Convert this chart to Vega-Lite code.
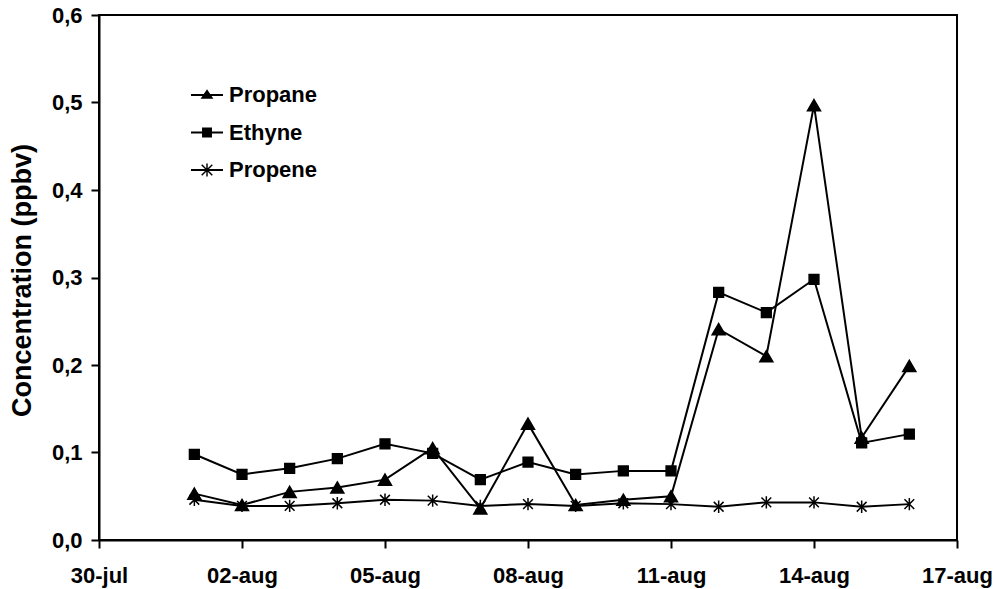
{
  "$schema": "https://vega.github.io/schema/vega-lite/v6.json",
  "width": 858,
  "height": 525,
  "autosize": {"type": "none"},
  "padding": {"left": 99, "top": 15, "right": 41, "bottom": 49},
  "background": "white",
  "config": {
    "view": {"stroke": "black", "strokeWidth": 2},
    "font": "Liberation Sans",
    "axis": {"grid": false, "domainColor": "black", "domainWidth": 2, "tickColor": "black", "tickWidth": 2, "tickSize": 8, "labelFont": "Liberation Sans", "labelFontWeight": "bold", "labelFontSize": 22, "labelColor": "black", "titleFont": "Liberation Sans", "titleFontWeight": "bold", "titleColor": "black"}
  },
  "data": {
    "values": [
      {"date": "2000-08-01", "series": "Propane", "value": 0.053},
      {"date": "2000-08-02", "series": "Propane", "value": 0.040},
      {"date": "2000-08-03", "series": "Propane", "value": 0.055},
      {"date": "2000-08-04", "series": "Propane", "value": 0.060},
      {"date": "2000-08-05", "series": "Propane", "value": 0.069},
      {"date": "2000-08-06", "series": "Propane", "value": 0.105},
      {"date": "2000-08-07", "series": "Propane", "value": 0.036},
      {"date": "2000-08-08", "series": "Propane", "value": 0.133},
      {"date": "2000-08-09", "series": "Propane", "value": 0.040},
      {"date": "2000-08-10", "series": "Propane", "value": 0.046},
      {"date": "2000-08-11", "series": "Propane", "value": 0.050},
      {"date": "2000-08-12", "series": "Propane", "value": 0.241},
      {"date": "2000-08-13", "series": "Propane", "value": 0.210},
      {"date": "2000-08-14", "series": "Propane", "value": 0.497},
      {"date": "2000-08-15", "series": "Propane", "value": 0.117},
      {"date": "2000-08-16", "series": "Propane", "value": 0.199},
      {"date": "2000-08-01", "series": "Ethyne", "value": 0.098},
      {"date": "2000-08-02", "series": "Ethyne", "value": 0.075},
      {"date": "2000-08-03", "series": "Ethyne", "value": 0.082},
      {"date": "2000-08-04", "series": "Ethyne", "value": 0.093},
      {"date": "2000-08-05", "series": "Ethyne", "value": 0.110},
      {"date": "2000-08-06", "series": "Ethyne", "value": 0.099},
      {"date": "2000-08-07", "series": "Ethyne", "value": 0.069},
      {"date": "2000-08-08", "series": "Ethyne", "value": 0.089},
      {"date": "2000-08-09", "series": "Ethyne", "value": 0.075},
      {"date": "2000-08-10", "series": "Ethyne", "value": 0.079},
      {"date": "2000-08-11", "series": "Ethyne", "value": 0.079},
      {"date": "2000-08-12", "series": "Ethyne", "value": 0.283},
      {"date": "2000-08-13", "series": "Ethyne", "value": 0.260},
      {"date": "2000-08-14", "series": "Ethyne", "value": 0.298},
      {"date": "2000-08-15", "series": "Ethyne", "value": 0.111},
      {"date": "2000-08-16", "series": "Ethyne", "value": 0.121},
      {"date": "2000-08-01", "series": "Propene", "value": 0.046},
      {"date": "2000-08-02", "series": "Propene", "value": 0.039},
      {"date": "2000-08-03", "series": "Propene", "value": 0.039},
      {"date": "2000-08-04", "series": "Propene", "value": 0.042},
      {"date": "2000-08-05", "series": "Propene", "value": 0.046},
      {"date": "2000-08-06", "series": "Propene", "value": 0.045},
      {"date": "2000-08-07", "series": "Propene", "value": 0.039},
      {"date": "2000-08-08", "series": "Propene", "value": 0.041},
      {"date": "2000-08-09", "series": "Propene", "value": 0.039},
      {"date": "2000-08-10", "series": "Propene", "value": 0.042},
      {"date": "2000-08-11", "series": "Propene", "value": 0.041},
      {"date": "2000-08-12", "series": "Propene", "value": 0.038},
      {"date": "2000-08-13", "series": "Propene", "value": 0.043},
      {"date": "2000-08-14", "series": "Propene", "value": 0.043},
      {"date": "2000-08-15", "series": "Propene", "value": 0.038},
      {"date": "2000-08-16", "series": "Propene", "value": 0.041}
    ]
  },
  "encoding": {
    "x": {
      "field": "date",
      "type": "temporal",
      "scale": {
        "type": "utc",
        "domain": [
          {"year": 2000, "month": 7, "date": 30, "utc": true},
          {"year": 2000, "month": 8, "date": 17, "utc": true}
        ]
      },
      "axis": {
        "title": null,
        "values": [
          {"year": 2000, "month": 7, "date": 30, "utc": true},
          {"year": 2000, "month": 8, "date": 2, "utc": true},
          {"year": 2000, "month": 8, "date": 5, "utc": true},
          {"year": 2000, "month": 8, "date": 8, "utc": true},
          {"year": 2000, "month": 8, "date": 11, "utc": true},
          {"year": 2000, "month": 8, "date": 14, "utc": true},
          {"year": 2000, "month": 8, "date": 17, "utc": true}
        ],
        "labelExpr": "lower(utcFormat(datum.value, '%d-%b'))",
        "labelPadding": 17,
        "labelFlush": false,
        "labelOverlap": false
      }
    },
    "y": {
      "field": "value",
      "type": "quantitative",
      "scale": {"domain": [0, 0.6], "nice": false, "zero": true},
      "axis": {
        "title": "Concentration (ppbv)",
        "titleFontSize": 27,
        "titleX": -77,
        "titleY": 265,
        "titleAngle": -90,
        "titleAlign": "center",
        "titleBaseline": "middle",
        "values": [0, 0.1, 0.2, 0.3, 0.4, 0.5, 0.6],
        "labelExpr": "replace(format(datum.value, '.1f'), '.', ',')",
        "labelPadding": 9
      }
    }
  },
  "resolve": {"scale": {"shape": "independent"}, "legend": {"shape": "independent"}},
  "layer": [
    {
      "mark": {"type": "line", "color": "black", "strokeWidth": 2},
      "encoding": {"detail": {"field": "series"}}
    },
    {
      "mark": {"type": "point", "filled": true, "color": "black", "stroke": "black", "strokeWidth": 1.5, "opacity": 1},
      "encoding": {
        "shape": {
          "field": "series",
          "type": "nominal",
          "scale": {
            "domain": ["Propane", "Ethyne", "Propene"],
            "range": [
              "M0,-0.85L1,0.85L-1,0.85Z",
              "M-0.75,-0.75L0.75,-0.75L0.75,0.75L-0.75,0.75Z",
              "M0,-0.95L0,0.95M-0.75,-0.75L0.75,0.75M-0.75,0.75L0.75,-0.75"
            ]
          },
          "legend": null
        },
        "size": {"value": 169}
      }
    },
    {
      "transform": [{"filter": "datum.value < 0"}],
      "mark": {"type": "point", "filled": true, "color": "black", "opacity": 1},
      "encoding": {
        "shape": {
          "field": "series",
          "type": "nominal",
          "scale": {
            "domain": ["Propane", "Ethyne", "Propene"],
            "range": [
              "M-1,-0.055L1,-0.055L1,0.055L-1,0.055ZM0,-0.36L0.4,0.24L-0.4,0.24Z",
              "M-1,-0.055L1,-0.055L1,0.055L-1,0.055ZM-0.31,-0.31L0.31,-0.31L0.31,0.31L-0.31,0.31Z",
              "M-1,-0.055L1,-0.055L1,0.055L-1,0.055ZM-0.045,-0.4L0.045,-0.4L0.045,0.4L-0.045,0.4ZM-0.298,-0.362L0.362,0.298L0.298,0.362L-0.362,-0.298ZM-0.362,0.298L0.298,-0.362L0.362,-0.298L-0.298,0.362Z"
            ]
          },
          "legend": {
            "title": null,
            "orient": "none",
            "legendX": 91,
            "legendY": 63,
            "padding": 0,
            "symbolSize": 1024,
            "labelFont": "Liberation Sans",
            "labelFontWeight": "bold",
            "labelFontSize": 22,
            "labelColor": "black",
            "labelOffset": 5,
            "rowPadding": 9.5
          }
        }
      }
    }
  ]
}
